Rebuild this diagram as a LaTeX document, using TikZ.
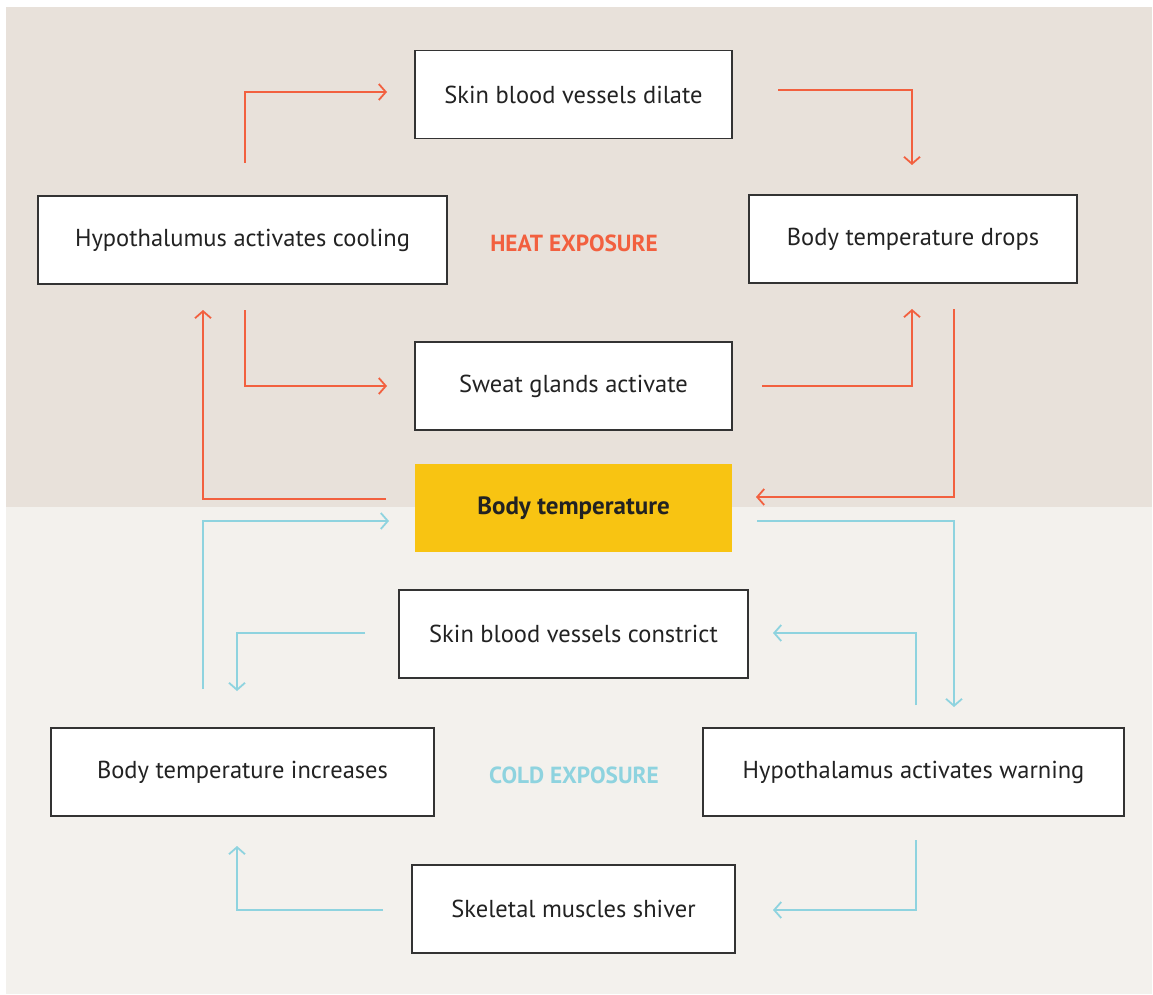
\documentclass[tikz,border=0pt]{standalone}
\usepackage{fontspec}
\setmainfont{PT Sans}
\usetikzlibrary{arrows.meta}
\definecolor{heatbg}{HTML}{E8E1DA}
\definecolor{coldbg}{HTML}{F3F1ED}
\definecolor{heat}{HTML}{F2603F}
\definecolor{cold}{HTML}{8ED3DF}
\definecolor{core}{HTML}{F8C412}
\definecolor{edge}{HTML}{333333}
\definecolor{ink}{HTML}{222222}
\tikzset{
  stepbox/.style={draw=edge, line width=1.2pt, fill=white, minimum height=88pt, inner sep=0pt, text=ink, font=\fontsize{24.5}{28}\selectfont},
  corebox/.style={fill=core, minimum height=88pt, minimum width=317pt, inner sep=0pt, text=ink, font=\fontsize{25}{28}\selectfont\bfseries},
  hotarrow/.style={draw=heat, line width=1.8pt, -{Straight Barb[length=7pt,width=16pt,line width=1.8pt]}},
  coldarrow/.style={draw=cold, line width=1.8pt, -{Straight Barb[length=7pt,width=16pt,line width=1.8pt]}},
  zonelabel/.style={font=\fontsize{23.3}{26}\selectfont\bfseries}
}
\begin{document}
\begin{tikzpicture}[x=1pt,y=-1pt]
\useasboundingbox (0,0) rectangle (1153,995);
\fill[white] (0,0) rectangle (1153,995);
\fill[heatbg] (6,7) rectangle (1152,507);
\fill[coldbg] (6,507) rectangle (1152,994);

% nodes
\node[stepbox, minimum width=317pt] (dilate) at (573.5,94.5) {Skin blood vessels dilate};
\node[stepbox, minimum width=409pt] (cool) at (242.5,240) {Hypothalumus activates cooling};
\node[stepbox, minimum width=328pt] (drops) at (913,239) {Body temperature drops};
\node[stepbox, minimum width=317pt] (sweat) at (573.5,386) {Sweat glands activate};
\node[corebox] (core) at (573.5,508) {Body temperature};
\node[stepbox, minimum width=349pt] (constrict) at (573.5,634) {Skin blood vessels constrict};
\node[stepbox, minimum width=383pt] (incr) at (242.5,772) {Body temperature increases};
\node[stepbox, minimum width=421pt] (warm) at (913.5,772) {Hypothalamus activates warning};
\node[stepbox, minimum width=323pt] (shiver) at (573.5,909) {Skeletal muscles shiver};

\node[zonelabel, text=heat] (heatlbl) at (574,243) {HEAT EXPOSURE};
\node[zonelabel, text=cold] (coldlbl) at (574,775) {COLD EXPOSURE};

% connector end points
\coordinate (a1s) at (245,163); \coordinate (a1e) at (387,92);
\coordinate (a2s) at (778,90);  \coordinate (a2e) at (912,165);
\coordinate (a3s) at (245,310); \coordinate (a3e) at (387,386);
\coordinate (a4s) at (762,386); \coordinate (a4e) at (912,309);
\coordinate (a5s) at (954,309); \coordinate (a5e) at (756,497);
\coordinate (a6s) at (386,499); \coordinate (a6e) at (203,310);
\coordinate (b1s) at (203,689); \coordinate (b1e) at (389,521);
\coordinate (b2s) at (757,521); \coordinate (b2e) at (954,707);
\coordinate (b3s) at (365,633); \coordinate (b3e) at (237,691);
\coordinate (b4s) at (916,705); \coordinate (b4e) at (773,633);
\coordinate (b5s) at (916,840); \coordinate (b5e) at (773,910);
\coordinate (b6s) at (383,910); \coordinate (b6e) at (237,846);

% heat loop
\draw[hotarrow] (a1s) |- (a1e);
\draw[hotarrow] (a2s) -| (a2e);
\draw[hotarrow] (a3s) |- (a3e);
\draw[hotarrow] (a4s) -| (a4e);
\draw[hotarrow] (a5s) |- (a5e);
\draw[hotarrow] (a6s) -| (a6e);
% cold loop
\draw[coldarrow] (b1s) |- (b1e);
\draw[coldarrow] (b2s) -| (b2e);
\draw[coldarrow] (b3s) -| (b3e);
\draw[coldarrow] (b4s) |- (b4e);
\draw[coldarrow] (b5s) |- (b5e);
\draw[coldarrow] (b6s) -| (b6e);
\end{tikzpicture}
\end{document}
